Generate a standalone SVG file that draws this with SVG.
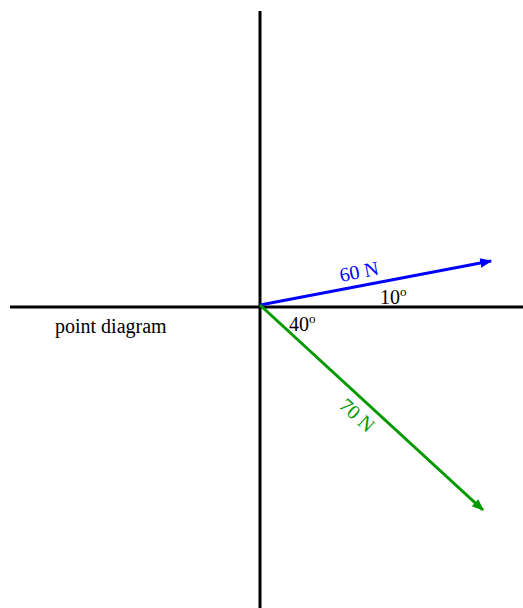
<svg xmlns="http://www.w3.org/2000/svg" width="523" height="608" viewBox="0 0 523 608">
<style>
.ax{stroke:#000;stroke-width:3;fill:none}
.t{font-family:"Liberation Serif","Times New Roman",serif;font-size:20px}
.sup{font-size:13px}
</style>
<defs>
<marker id="ab" viewBox="0 0 10 10" refX="9" refY="5" markerWidth="4" markerHeight="4" orient="auto" markerUnits="strokeWidth"><path d="M0,1 L10,5 L0,9 z" fill="#0000ff"/></marker>
<marker id="ag" viewBox="0 0 10 10" refX="9" refY="5" markerWidth="4" markerHeight="4" orient="auto" markerUnits="strokeWidth"><path d="M0,1 L10,5 L0,9 z" fill="#009900"/></marker>
</defs>
<rect width="523" height="608" fill="#fff"/>
<g id="axes">
<line class="ax" x1="260" y1="11" x2="260" y2="608"/>
<line class="ax" x1="10" y1="307" x2="523" y2="307"/>
</g>
<g id="connectors">
<line x1="260" y1="305" x2="491" y2="261" stroke="#0000ff" stroke-width="3" marker-end="url(#ab)"/>
<line x1="260" y1="305" x2="483" y2="510" stroke="#009900" stroke-width="3" marker-end="url(#ag)"/>
</g>
<g id="labels">
<text class="t" x="341" y="282" fill="#0000ff" transform="rotate(-11 341 282)">60 N</text>
<text class="t" x="380" y="304">10<tspan class="sup" dy="-8">o</tspan></text>
<text class="t" x="289" y="331">40<tspan class="sup" dy="-8">o</tspan></text>
<text class="t" x="338" y="407" fill="#009900" transform="rotate(42 338 407)">70 N</text>
<text class="t" x="55" y="333">point diagram</text>
</g>
</svg>
